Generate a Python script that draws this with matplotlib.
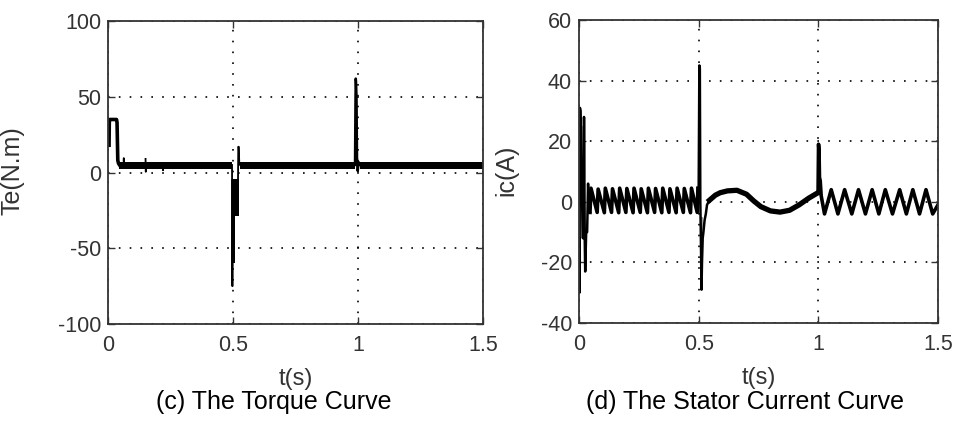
import matplotlib
matplotlib.use("Agg")
import matplotlib.pyplot as plt

plt.rcParams['font.family'] = ['Liberation Sans', 'DejaVu Sans']
plt.rcParams['axes.unicode_minus'] = False

nan = float('nan')

# ---- torque curve (c): thin trace key points
te_start_t = [0.004, 0.005, 0.007, 0.034, 0.036, 0.039, 0.042, 0.046]
te_start = [18, 33, 35, 35, 33, 8, 6, 5]

# small blips on the steady band (nan splits the pieces)
te_blip_t = [0.062, 0.063, 0.064, nan, 0.150, 0.151, 0.152, nan,
             0.219, 0.220, 0.221]
te_blip = [5, 9.5, 5, nan, 9, 0.5, 5, nan, 5, 1.5, 5]

te_drop_t = [0.496, 0.497, 0.498, 0.499]
te_drop = [5, -75, -75, -5]

te_kick_t = [0.520, 0.521, 0.523, 0.525, 0.528]
te_kick = [-4, 17, 17, 6, 5]

te_load_t = [0.988, 0.990, 0.991, 0.992, 0.994, 0.996, 0.999, 1.002, 1.005]
te_load = [5, 50, 62, 60, 50, 10, 1, 7, 5]

# ripple band of the torque (lower / upper edge)
te_band_t = [[0.042, 0.496], [0.526, 0.988], [1.006, 1.5]]
te_band_lo = [2.6, 2.6, 2.6]
te_band_hi = [7.1, 7.1, 7.1]

# dip band after the 0.5 s load step
te_dip_t = [0.499, 0.508, 0.508, 0.522]
te_dip_lo = [-60, -60, -29, -29]
te_dip_hi = [-4, -4, -4, -4]

# ---- stator current (d)
ic_start_t = [0.000, 0.002, 0.004, 0.006, 0.016, 0.019, 0.021, 0.024, 0.026,
              0.030, 0.034, 0.038, 0.042, 0.046]
ic_start = [-12, -30, 31, 30, -12, -12, 28, -12, -23, -10, -10, 6, -3, -3.5]

ic_ss_t = [0.046, 0.050, 0.076, 0.080, 0.106, 0.110, 0.136, 0.140, 0.166,
           0.170, 0.196, 0.200, 0.226, 0.230, 0.256, 0.260, 0.286, 0.290,
           0.316, 0.320, 0.346, 0.350, 0.376, 0.380, 0.406, 0.410, 0.436,
           0.440, 0.466, 0.470, 0.494, 0.497]
ic_ss = [-3.5, 4.5, -3.5, 4.2, -3.6, 4.5, -3.5, 4.3, -3.6, 4.5, -3.5, 4.4,
         -3.6, 4.5, -3.5, 4.3, -3.6, 4.5, -3.5, 4.4, -3.6, 4.5, -3.5, 4.3,
         -3.6, 4.5, -3.5, 4.4, -3.6, 4.5, -3.5, 4.5]

ic_step_t = [0.497, 0.500, 0.503, 0.505, 0.507, 0.509, 0.512, 0.514, 0.517,
             0.520, 0.525, 0.530, 0.535, 0.545]
ic_step = [4.5, 2, 45, 44, 0, -10, -29, -20, -12, -10, -6, -4, -1, 0.5]

ic_slow_t = [0.545, 0.570, 0.590, 0.620, 0.660, 0.700, 0.730, 0.760, 0.800,
             0.840, 0.880, 0.920, 0.960, 0.990, 0.999]
ic_slow = [0.5, 2.2, 3.0, 3.6, 3.8, 2.5, 0.3, -1.6, -3.0, -3.4, -2.8, -1.0,
           1.2, 2.6, 3.0]

ic_load_t = [0.999, 1.001, 1.003, 1.005, 1.008, 1.012, 1.026, 1.054, 1.082,
             1.110, 1.140, 1.168, 1.197, 1.225, 1.253, 1.280, 1.310, 1.340,
             1.368, 1.395, 1.423, 1.450, 1.478, 1.500]
ic_load = [3, 19, 17, 8, 7, 2, -4, 4, -4, 4, -4, 4, -4, 4, -4, 4, -4, 4,
           -4, 4, -4, 4, -4, -1]

# gray (dense) areas of the current trace
ic_gray_t = [[0.004, 0.018], [0.509, 0.519]]
ic_gray_lo = [-12, -14]
ic_gray_hi = [25, -5]

te_ticks = [-100, -50, 0, 50, 100]
ic_ticks = [-40, -20, 0, 20, 40, 60]
t_ticks = [0, 0.5, 1, 1.5]
t_labels = ['0', '0.5', '1', '1.5']

fig = plt.figure(figsize=(9.57, 4.23), dpi=100)
ax1 = fig.add_axes([0.1129, 0.234, 0.3918, 0.7163])
ax2 = fig.add_axes([0.605, 0.2364, 0.3751, 0.7163])

grid_style = dict(color='black', linestyle=(0, (1, 5.5)), linewidth=1.2)

for ax in (ax1, ax2):
    ax.set_xlim(0, 1.5)
    ax.set_xticks(t_ticks)
    ax.set_xticklabels(t_labels)
    ax.grid(True, **grid_style)
    ax.set_axisbelow(True)
    ax.tick_params(direction='in', length=5, width=1.0, top=True, right=True,
                   labelsize=15.5, labelcolor='#333333', color='#333333')
    ax.tick_params(axis='x', pad=8)
    ax.tick_params(axis='y', pad=5)
    for sp in ax.spines.values():
        sp.set_linewidth(1.3)
        sp.set_color('#333333')
    ax.set_xlabel('t(s)', fontsize=17, color='#333333')
    ax.xaxis.set_label_coords(0.5, -0.145)

# torque plot
ax1.set_ylim(-100, 100)
ax1.set_yticks(te_ticks)
for (t0, t1), lo, hi in zip(te_band_t, te_band_lo, te_band_hi):
    ax1.fill_between([t0, t1], [lo, lo], [hi, hi], color='black', linewidth=0)
ax1.fill_between(te_dip_t, te_dip_lo, te_dip_hi, color='black', linewidth=0)
ax1.plot(te_start_t, te_start, color='black', linewidth=2.6)
ax1.plot(te_blip_t, te_blip, color='black', linewidth=1.3)
ax1.plot(te_drop_t, te_drop, color='black', linewidth=1.3)
ax1.plot(te_kick_t, te_kick, color='black', linewidth=1.3)
ax1.plot(te_load_t, te_load, color='black', linewidth=1.8)
ax1.set_ylabel('Te(N.m)', fontsize=18, color='#333333')
ax1.yaxis.set_label_coords(-0.224, 0.505)

# current plot
ax2.set_ylim(-40, 60)
ax2.set_yticks(ic_ticks)
for (t0, t1), lo, hi in zip(ic_gray_t, ic_gray_lo, ic_gray_hi):
    ax2.fill_between([t0, t1], [lo, lo], [hi, hi], color='#a0a0a0', linewidth=0)
ax2.plot(ic_start_t, ic_start, color='black', linewidth=1.8)
ax2.plot(ic_ss_t, ic_ss, color='black', linewidth=2.6)
ax2.plot(ic_step_t, ic_step, color='black', linewidth=1.8)
ax2.plot(ic_slow_t, ic_slow, color='black', linewidth=3.8)
ax2.plot(ic_load_t, ic_load, color='black', linewidth=2.6)
ax2.set_ylabel('ic(A)', fontsize=18, color='#333333')
ax2.yaxis.set_label_coords(-0.17, 0.505)

fig.text(273.5 / 957, 1 - 402 / 423, '(c) The Torque Curve', fontsize=18,
         ha='center', va='center', color='black')
fig.text(745 / 957, 1 - 402 / 423, '(d) The Stator Current Curve', fontsize=18,
         ha='center', va='center', color='black')

fig.savefig('out.png', dpi=100)
